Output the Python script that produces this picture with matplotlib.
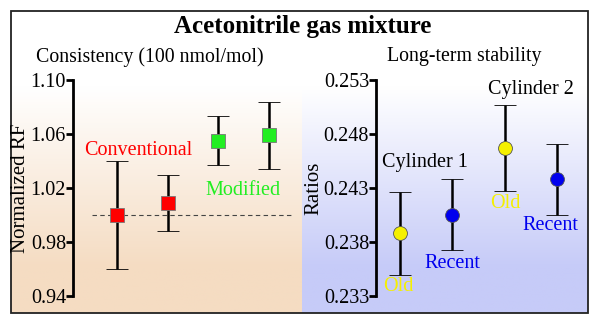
import numpy as np
import matplotlib
matplotlib.use("Agg")
import matplotlib.pyplot as plt
from matplotlib.patches import Rectangle
from matplotlib.colors import LinearSegmentedColormap

plt.rcParams['font.family'] = ['Liberation Serif', 'DejaVu Serif']

# Consistency (normalized RF)
rf_x = [1, 2, 3, 4]
rf_val = [1.000, 1.009, 1.055, 1.059]
rf_low = [0.960, 0.988, 1.037, 1.034]
rf_high = [1.040, 1.030, 1.073, 1.084]
rf_colors = ['#ff0000', '#ff0000', '#22ee22', '#22ee22']
rf_ticks = [0.94, 0.98, 1.02, 1.06, 1.10]

# Long-term stability (ratios)
st_x = [1, 2, 3, 4]
st_val = [0.2388, 0.2405, 0.2467, 0.2438]
st_low = [0.2349, 0.2373, 0.2427, 0.2405]
st_high = [0.2426, 0.2438, 0.2507, 0.2471]
st_colors = ['#f5f000', '#0000ee', '#f5f000', '#0000ee']
st_ticks = [0.233, 0.238, 0.243, 0.248, 0.253]

W, H = 600, 325
fig = plt.figure(figsize=(6, 3.25), dpi=100)

# background panels drawn in pixel coordinates
bg = fig.add_axes([0, 0, 1, 1])
bg.set_xlim(0, W)
bg.set_ylim(H, 0)
bg.axis('off')
grad = np.linspace(0, 1, 256).reshape(-1, 1)
cm_l = LinearSegmentedColormap.from_list(
    'l', [(0, '#ffffff'), (0.25, '#ffffff'), (0.85, '#f5dcc2'), (1, '#f5dcc2')])
cm_r = LinearSegmentedColormap.from_list(
    'r', [(0, '#ffffff'), (0.25, '#ffffff'), (0.85, '#c6cbf8'), (1, '#c6cbf8')])
bg.imshow(grad, cmap=cm_l, extent=[11, 302, 313, 11], aspect='auto')
bg.imshow(grad, cmap=cm_r, extent=[302, 588, 313, 11], aspect='auto')
bg.add_patch(Rectangle((11, 11), 577, 302, fill=False, edgecolor='#222222', lw=1.3))

bg.text(303, 27, 'Acetonitrile gas mixture', ha='center', va='center',
        fontsize=18, fontweight='bold')
bg.text(150, 57, 'Consistency (100 nmol/mol)', ha='center', va='center', fontsize=14.3)
bg.text(464, 57, 'Long-term stability', ha='center', va='center', fontsize=14.3)

bottom = 1 - 296 / H
height = (296 - 80) / H


def style(ax, ticks):
    ax.set_facecolor('none')
    for s in ['top', 'right', 'bottom']:
        ax.spines[s].set_visible(False)
    ax.spines['left'].set_linewidth(2)
    ax.set_xticks([])
    ax.set_yticks(ticks)
    ax.tick_params(axis='y', direction='out', length=5, width=2, labelsize=14.5, pad=0)


ax1 = fig.add_axes([73 / W, bottom, (297 - 73) / W, height])
ax1.set_xlim(0.13, 4.55)
ax1.set_ylim(0.94, 1.10)
ax1.hlines(1.0, 0.5, 4.5, colors='#444444', linestyles=(0, (4, 3)), lw=0.8)
for x, v, lo, hi, c in zip(rf_x, rf_val, rf_low, rf_high, rf_colors):
    ax1.errorbar(x, v, yerr=[[v - lo], [hi - v]], fmt='s', color='black', ecolor='black',
                 elinewidth=1.8, capsize=8, capthick=1.8, markersize=10,
                 markerfacecolor=c, markeredgecolor='#777777', markeredgewidth=0.6)
style(ax1, rf_ticks)
ax1.set_yticklabels(['%.2f' % t for t in rf_ticks])
ax1.set_ylabel('Normalized RF', fontsize=15)
ax1.yaxis.set_label_coords(-0.19, 0.5)
ax1.text(1.42, 1.0475, 'Conventional', color='#ff0000', fontsize=14.5, ha='center', va='center')
ax1.text(3.49, 1.0185, 'Modified', color='#22ee22', fontsize=14.5, ha='center', va='center')

ax2 = fig.add_axes([376 / W, bottom, (588 - 376) / W, height])
ax2.set_xlim(0.535, 4.6)
ax2.set_ylim(0.233, 0.253)
for x, v, lo, hi, c in zip(st_x, st_val, st_low, st_high, st_colors):
    ax2.errorbar(x, v, yerr=[[v - lo], [hi - v]], fmt='o', color='black', ecolor='black',
                 elinewidth=1.8, capsize=8, capthick=1.8, markersize=10,
                 markerfacecolor=c, markeredgecolor='#555555', markeredgewidth=0.6)
style(ax2, st_ticks)
ax2.set_ylabel('Ratios', fontsize=15)
ax2.yaxis.set_label_coords(-0.25, 0.5)
ax2.text(1.47, 0.2454, 'Cylinder 1', fontsize=14.5, ha='center', va='center')
ax2.text(3.51, 0.2521, 'Cylinder 2', fontsize=14.5, ha='center', va='center')
ax2.text(0.97, 0.2339, 'Old', color='#f5f000', fontsize=14.5, ha='center', va='center')
ax2.text(2.0, 0.2360, 'Recent', color='#0000ee', fontsize=14.5, ha='center', va='center')
ax2.text(3.02, 0.2416, 'Old', color='#f5f000', fontsize=14.5, ha='center', va='center')
ax2.text(3.88, 0.2395, 'Recent', color='#0000ee', fontsize=14.5, ha='center', va='center')

fig.savefig('out.png', dpi=100)
